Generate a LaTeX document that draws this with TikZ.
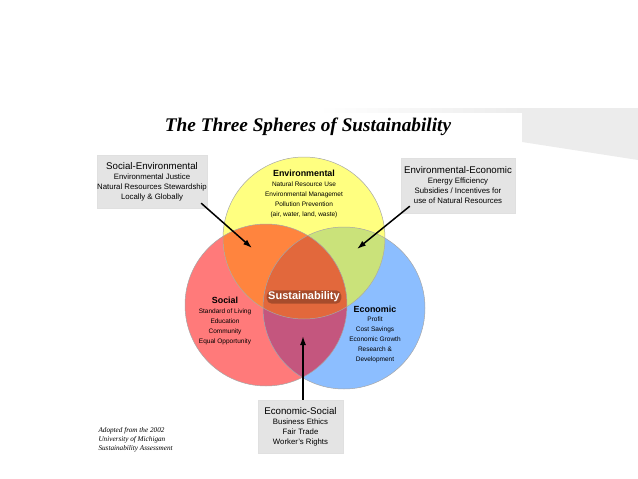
\documentclass[tikz,border=0pt]{standalone}
\usepackage{fontspec}
\setmainfont{Liberation Sans}
\newfontfamily\serifface{Liberation Serif}
\usetikzlibrary{arrows.meta, calc}

\definecolor{envyellow}{RGB}{255,255,128}
\definecolor{socred}{RGB}{255,122,122}
\definecolor{ecoblue}{RGB}{140,190,255}
\definecolor{orangemix}{RGB}{255,132,62}
\definecolor{greenmix}{RGB}{202,226,122}
\definecolor{mauvemix}{RGB}{196,86,126}
\definecolor{coremix}{RGB}{226,104,60}
\definecolor{boxgray}{RGB}{228,228,228}
\definecolor{bandgray}{RGB}{236,236,236}
\definecolor{glowbrown}{RGB}{80,35,20}

\begin{document}
\begin{tikzpicture}[x=1pt, y=-1pt, >=Latex,
  rim/.style={draw=black!35, line width=0.5pt},
  infobox/.style={draw=black!12, fill=boxgray, minimum height=53pt, inner sep=0pt, align=center, font=\fontsize{7.8}{10}\selectfont},
  spheretext/.style={align=center, font=\fontsize{6.5}{9.8}\selectfont},
  pointer/.style={->, line width=1.5pt, arrows={-Latex[length=9pt, width=6pt]}}]
\useasboundingbox (0,0) rectangle (638,479);
% grey band at the top right
\shade[left color=white, right color=bandgray] (318,108) rectangle (522,112);
\fill[bandgray] (522,108) -- (638,108) -- (638,160) -- (522,142) -- cycle;
\node[font=\serifface\bfseries\itshape\fontsize{19.3}{22}\selectfont] (title) at (308,127) {The Three Spheres of Sustainability};

\coordinate (env) at (304,238);
\coordinate (soc) at (266,305);
\coordinate (eco) at (344,308);
\fill[socred] (soc) circle (81);
\fill[ecoblue] (eco) circle (81);
\fill[envyellow] (env) circle (81);
\begin{scope}
  \clip (env) circle (81);
  \fill[orangemix] (soc) circle (81);
  \fill[greenmix] (eco) circle (81);
\end{scope}
\begin{scope}
  \clip (soc) circle (81);
  \fill[mauvemix] (eco) circle (81);
  \clip (env) circle (81);
  \fill[coremix] (eco) circle (81);
\end{scope}
\foreach \c in {soc,eco,env} { \draw[rim] (\c) circle (81); }

\node[spheretext] (envtext) at (304,194) {{\bfseries\fontsize{8.9}{10}\selectfont Environmental}\\Natural Resource Use\\Environmental Managemet\\Pollution Prevention\\(air, water, land, waste)};
\node[spheretext] (soctext) at (225,321) {{\bfseries\fontsize{8.9}{10}\selectfont Social}\\Standard of Living\\Education\\Community\\Equal Opportunity};
\node[spheretext] (ecotext) at (375,334) {{\bfseries\fontsize{8.9}{10}\selectfont Economic}\\Profit\\Cost Savings\\Economic Growth\\Research \&\\Development};
\node[text=white, font=\bfseries\fontsize{11}{12}\selectfont, fill=glowbrown, fill opacity=0.4, text opacity=1, rounded corners=5pt, inner sep=1.5pt] (core) at (304,297) {Sustainability};

\node[infobox, minimum width=110pt] (sebox) at (152,181.5) {{\fontsize{9.7}{10}\selectfont Social-Environmental}\\Environmental Justice\\Natural Resources Stewardship\\Locally \& Globally};
\node[infobox, minimum width=114pt, minimum height=55pt] (eebox) at (458,185.5) {{\fontsize{9.7}{10}\selectfont Environmental-Economic}\\Energy Efficiency\\Subsidies / Incentives for\\use of Natural Resources};
\node[infobox, minimum width=85pt] (esbox) at (300.5,426.5) {{\fontsize{9.7}{10}\selectfont Economic-Social}\\Business Ethics\\Fair Trade\\Worker's Rights};

\coordinate (orangezone) at (252,248);
\coordinate (greenzone) at (357,249);
\coordinate (mauvezone) at (303,336);
\draw[pointer] ($(sebox.south east)+(-6,-5)$) -- (orangezone);
\draw[pointer] ($(eebox.south west)+(9,-7)$) -- (greenzone);
\draw[pointer] (esbox.north -| mauvezone) -- (mauvezone);

\node[anchor=north west, align=left, font=\serifface\itshape\fontsize{7.2}{9}\selectfont] (source) at (95,424) {Adopted from the 2002\\University of Michigan\\Sustainability Assessment};
\end{tikzpicture}
\end{document}
